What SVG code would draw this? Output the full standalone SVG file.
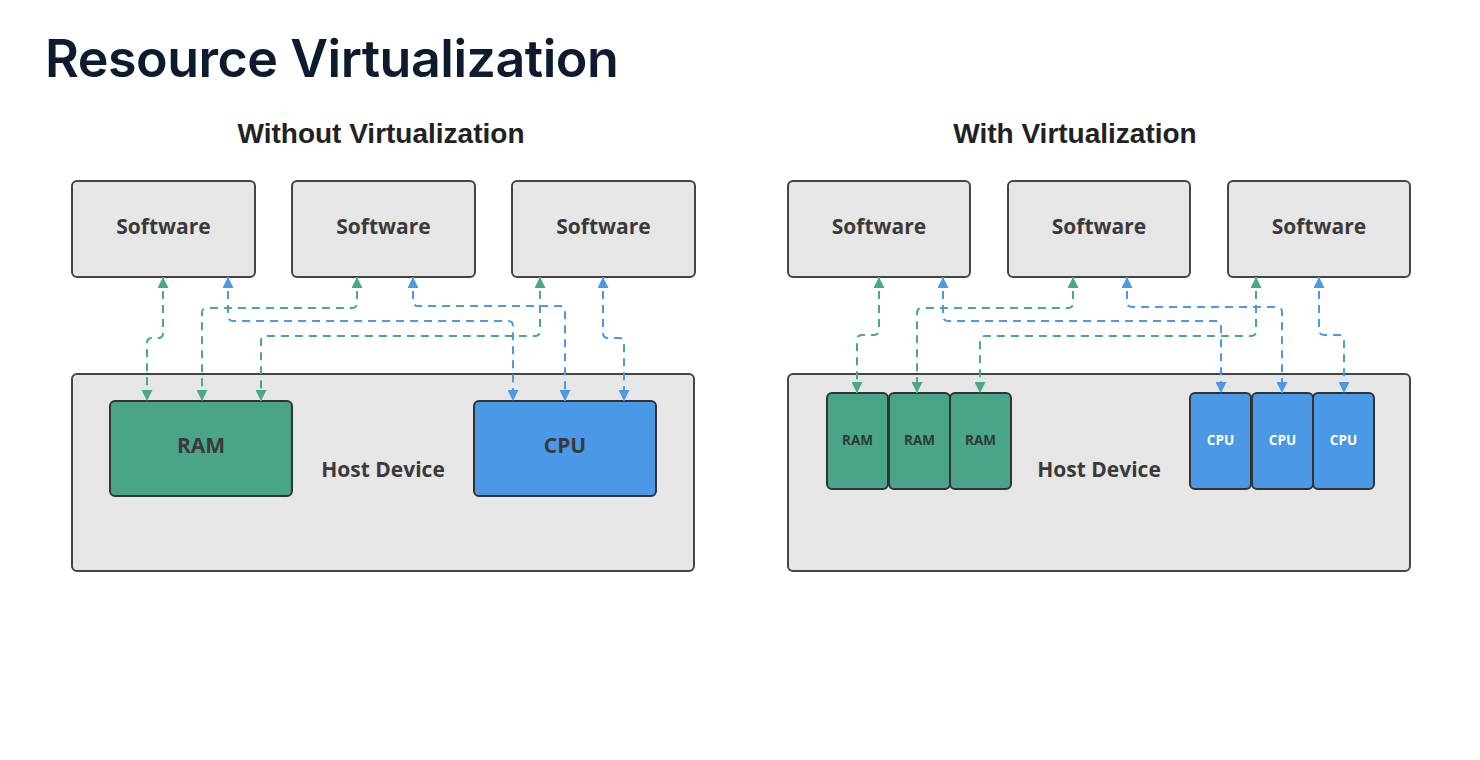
<svg xmlns="http://www.w3.org/2000/svg" width="1480" height="760" viewBox="0 0 1480 760">
<defs>
<style>
.box{fill:#e6e6e6;stroke:#444;stroke-width:2}
.ram{fill:#4aa48a;stroke:#333;stroke-width:2}
.cpu{fill:#4a98e6;stroke:#333;stroke-width:2}
.lbl{font-family:"Open Sans","DejaVu Sans",sans-serif;font-weight:700;font-size:21px;fill:#3a3a3a;text-anchor:middle}
.sm{font-family:"Open Sans","DejaVu Sans",sans-serif;font-weight:700;font-size:13.5px;text-anchor:middle}
.g{fill:none;stroke:#4aa88a;stroke-width:2;stroke-dasharray:8 6;marker-start:url(#ag);marker-end:url(#ag)}
.b{fill:none;stroke:#4a98e6;stroke-width:2;stroke-dasharray:8 6;marker-start:url(#ab);marker-end:url(#ab)}
.h2{font-family:"Liberation Sans",Arial,sans-serif;font-weight:700;font-size:28px;fill:#222;text-anchor:middle}
</style>
<marker id="ag" viewBox="0 0 10 10" refX="10" refY="5" markerWidth="11" markerHeight="11" markerUnits="userSpaceOnUse" orient="auto-start-reverse"><path d="M0,0 L10,5 L0,10 z" fill="#4aa88a"/></marker>
<marker id="ab" viewBox="0 0 10 10" refX="10" refY="5" markerWidth="11" markerHeight="11" markerUnits="userSpaceOnUse" orient="auto-start-reverse"><path d="M0,0 L10,5 L0,10 z" fill="#4a98e6"/></marker>
</defs>
<rect width="1480" height="760" fill="#fff"/>
<text x="45" y="77" font-family="Inter,Lato,sans-serif" font-weight="600" font-size="52" letter-spacing="-0.5" fill="#0d1b2e">Resource Virtualization</text>
<text class="h2" x="381" y="143">Without Virtualization</text>
<text class="h2" x="1075" y="143">With Virtualization</text>

<g id="host-left"><rect class="box" x="72" y="374" width="622" height="197" rx="5"/><text class="lbl" x="383" y="477">Host Device</text></g>
<g id="ram-left"><rect class="ram" x="110" y="401" width="182" height="95" rx="5"/><text class="lbl" x="201" y="453">RAM</text></g>
<g id="cpu-left"><rect class="cpu" x="474" y="401" width="182" height="95" rx="5"/><text class="lbl" x="565" y="453">CPU</text></g>
<g id="sw-l1"><rect class="box" x="72" y="181" width="183" height="96" rx="5"/><text class="lbl" x="163.5" y="234">Software</text></g>
<g id="sw-l2"><rect class="box" x="292" y="181" width="183" height="96" rx="5"/><text class="lbl" x="383.5" y="234">Software</text></g>
<g id="sw-l3"><rect class="box" x="512" y="181" width="183" height="96" rx="5"/><text class="lbl" x="603.5" y="234">Software</text></g>

<g id="host-right"><rect class="box" x="788" y="374" width="622" height="197" rx="5"/><text class="lbl" x="1099" y="477">Host Device</text></g>
<g id="ram-r1"><rect class="ram" x="827" y="393" width="61" height="96" rx="5"/><text class="sm" x="857.5" y="445" fill="#2f3a36">RAM</text></g>
<g id="ram-r2"><rect class="ram" x="889" y="393" width="61" height="96" rx="5"/><text class="sm" x="919.5" y="445" fill="#2f3a36">RAM</text></g>
<g id="ram-r3"><rect class="ram" x="950" y="393" width="61" height="96" rx="5"/><text class="sm" x="980.5" y="445" fill="#2f3a36">RAM</text></g>
<g id="cpu-r1"><rect class="cpu" x="1190" y="393" width="61" height="96" rx="5"/><text class="sm" x="1220.5" y="445" fill="#fff">CPU</text></g>
<g id="cpu-r2"><rect class="cpu" x="1252" y="393" width="61" height="96" rx="5"/><text class="sm" x="1282.5" y="445" fill="#fff">CPU</text></g>
<g id="cpu-r3"><rect class="cpu" x="1313" y="393" width="61" height="96" rx="5"/><text class="sm" x="1343.5" y="445" fill="#fff">CPU</text></g>
<g id="sw-r1"><rect class="box" x="788" y="181" width="182" height="96" rx="5"/><text class="lbl" x="879" y="234">Software</text></g>
<g id="sw-r2"><rect class="box" x="1008" y="181" width="182" height="96" rx="5"/><text class="lbl" x="1099" y="234">Software</text></g>
<g id="sw-r3"><rect class="box" x="1228" y="181" width="182" height="96" rx="5"/><text class="lbl" x="1319" y="234">Software</text></g>

<g id="connectors">
<path class="g" d="M163,277 V333 Q163,338 158,338 H152 Q147,338 147,343 V401"/>
<path class="b" d="M228,277 V316 Q228,321 233,321 H508 Q513,321 513,326 V401"/>
<path class="g" d="M357,277 V303 Q357,308 352,308 H207 Q202,308 202,313 V401"/>
<path class="g" d="M540,277 V331 Q540,336 535,336 H266 Q261,336 261,341 V401"/>
<path class="b" d="M413,277 V301 Q413,306 418,306 H560 Q565,306 565,311 V401"/>
<path class="b" d="M603,277 V333 Q603,338 608,338 H619 Q624,338 624,343 V401"/>

<path class="g" d="M879,277 V330 Q879,335 874,335 H862 Q857,335 857,340 V393"/>
<path class="b" d="M943,277 V316 Q943,321 948,321 H1216 Q1221,321 1221,326 V393"/>
<path class="g" d="M1073,277 V303 Q1073,308 1068,308 H922 Q917,308 917,313 V393"/>
<path class="g" d="M1256,277 V331 Q1256,336 1251,336 H985 Q980,336 980,341 V393"/>
<path class="b" d="M1127,277 V302 Q1127,307 1132,307 H1277 Q1282,307 1282,312 V393"/>
<path class="b" d="M1319,277 V330 Q1319,335 1324,335 H1339 Q1344,335 1344,340 V393"/>
</g>
</svg>
